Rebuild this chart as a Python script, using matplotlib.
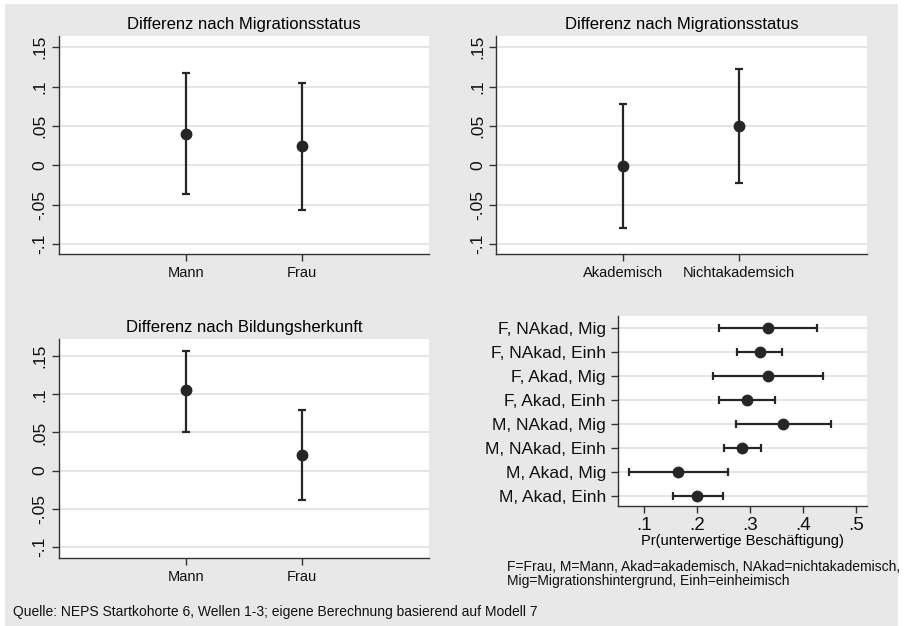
import matplotlib
matplotlib.use("Agg")
import matplotlib.pyplot as plt
from matplotlib.patches import Rectangle

plt.rcParams['font.family'] = ['Liberation Sans', 'DejaVu Sans']

# ---------------- data ----------------
p1_title = "Differenz nach Migrationsstatus"
p1_cats = ["Mann", "Frau"]
p1_est = [0.040, 0.025]
p1_lo = [-0.036, -0.056]
p1_hi = [0.117, 0.105]

p2_title = "Differenz nach Migrationsstatus"
p2_cats = ["Akademisch", "Nichtakademsich"]
p2_est = [-0.001, 0.050]
p2_lo = [-0.079, -0.022]
p2_hi = [0.078, 0.123]

p3_title = "Differenz nach Bildungsherkunft"
p3_cats = ["Mann", "Frau"]
p3_est = [0.105, 0.020]
p3_lo = [0.051, -0.038]
p3_hi = [0.157, 0.080]

diff_yticks = [-0.1, -0.05, 0, 0.05, 0.1, 0.15]
diff_yticklabels = ["-.1", "-.05", "0", ".05", ".1", ".15"]

# panel 4, listed from bottom to top
p4_cats = ["M, Akad, Einh", "M, Akad, Mig", "M, NAkad, Einh", "M, NAkad, Mig",
           "F, Akad, Einh", "F, Akad, Mig", "F, NAkad, Einh", "F, NAkad, Mig"]
p4_est = [0.201, 0.164, 0.285, 0.363, 0.294, 0.334, 0.319, 0.335]
p4_lo = [0.154, 0.072, 0.251, 0.273, 0.241, 0.230, 0.276, 0.242]
p4_hi = [0.249, 0.259, 0.321, 0.454, 0.348, 0.438, 0.360, 0.426]
p4_xticks = [0.1, 0.2, 0.3, 0.4, 0.5]
p4_xticklabels = [".1", ".2", ".3", ".4", ".5"]
p4_xlabel = "Pr(unterwertige Beschäftigung)"

note_text = ("F=Frau, M=Mann, Akad=akademisch, NAkad=nichtakademisch,\n"
             "Mig=Migrationshintergrund, Einh=einheimisch")
source_text = "Quelle: NEPS Startkohorte 6, Wellen 1-3; eigene Berechnung basierend auf Modell 7"

# ---------------- layout ----------------
W, H = 906, 626
BG = "#e8e8e8"
MARK = "#262626"
GRID = "#e3e3e3"
SPINE = "#333333"

fig = plt.figure(figsize=(W / 100, H / 100), dpi=100, facecolor="white")
fig.patches.append(Rectangle((5 / W, 0), (898 - 5) / W, (626 - 4) / H,
                             transform=fig.transFigure, facecolor=BG,
                             edgecolor="none", zorder=-10))


def px_axes(l, t, r, b):
    return fig.add_axes([l / W, 1 - b / H, (r - l) / W, (b - t) / H])


def style(ax):
    ax.set_facecolor("white")
    for s in ["top", "right"]:
        ax.spines[s].set_visible(False)
    for s in ["left", "bottom"]:
        ax.spines[s].set_color(SPINE)
        ax.spines[s].set_linewidth(1.0)
    ax.tick_params(colors=SPINE, length=5, width=1.0, labelcolor="#111111")


def diff_panel(ax, title, cats, est, lo, hi, ylim):
    style(ax)
    xs = list(range(1, len(cats) + 1))
    yerr = [[e - l for e, l in zip(est, lo)], [h - e for e, h in zip(est, hi)]]
    ax.errorbar(xs, est, yerr=yerr, fmt="o", color=MARK, ecolor=MARK,
                elinewidth=1.6, capsize=2.8, capthick=1.6, markersize=7.5, zorder=3)
    ax.set_xlim(1 - 1.095, 2 + 1.097)
    ax.set_ylim(*ylim)
    ax.set_yticks(diff_yticks)
    ax.set_yticklabels(diff_yticklabels, rotation=90, va="center", fontsize=12.5)
    ax.tick_params(axis="y", pad=3)
    ax.set_xticks(xs)
    ax.set_xticklabels(cats, fontsize=10.5)
    ax.yaxis.grid(True, color=GRID, linewidth=1.3)
    ax.set_axisbelow(True)
    ax.set_title(title, fontsize=12, pad=5)


ax1 = px_axes(58.7, 36, 429, 254)
diff_panel(ax1, p1_title, p1_cats, p1_est, p1_lo, p1_hi, (-0.1123, 0.1643))

ax2 = px_axes(496, 36, 866.7, 254)
diff_panel(ax2, p2_title, p2_cats, p2_est, p2_lo, p2_hi, (-0.1123, 0.1643))

ax3 = px_axes(58.7, 339.3, 429, 557.7)
diff_panel(ax3, p3_title, p3_cats, p3_est, p3_lo, p3_hi, (-0.114, 0.172))

ax4 = px_axes(617.7, 316, 866.7, 506)
style(ax4)
ys = list(range(1, len(p4_cats) + 1))
xerr = [[e - l for e, l in zip(p4_est, p4_lo)], [h - e for e, h in zip(p4_est, p4_hi)]]
ax4.errorbar(p4_est, ys, xerr=xerr, fmt="o", color=MARK, ecolor=MARK,
             elinewidth=1.6, capsize=2.8, capthick=1.6, markersize=7.5, zorder=3)
ax4.set_xlim(0.0503, 0.5208)
ax4.set_ylim(0.57, 8.49)
ax4.set_yticks(ys)
ax4.set_yticklabels(p4_cats, fontsize=12.5)
ax4.set_xticks(p4_xticks)
ax4.set_xticklabels(p4_xticklabels, fontsize=13.5)
ax4.tick_params(axis="x", pad=3)
ax4.yaxis.grid(True, color=GRID, linewidth=1.3)
ax4.set_axisbelow(True)
ax4.set_xlabel(p4_xlabel, fontsize=10.5, labelpad=0)

fig.text(507 / W, 1 - 574 / H, note_text, fontsize=10, ha="left", va="center",
         linespacing=1.0, color="#111111")
fig.text(13 / W, 1 - 612 / H, source_text, fontsize=10, ha="left", va="center",
         color="#111111")

fig.savefig("out.png", dpi=100, facecolor=fig.get_facecolor())
